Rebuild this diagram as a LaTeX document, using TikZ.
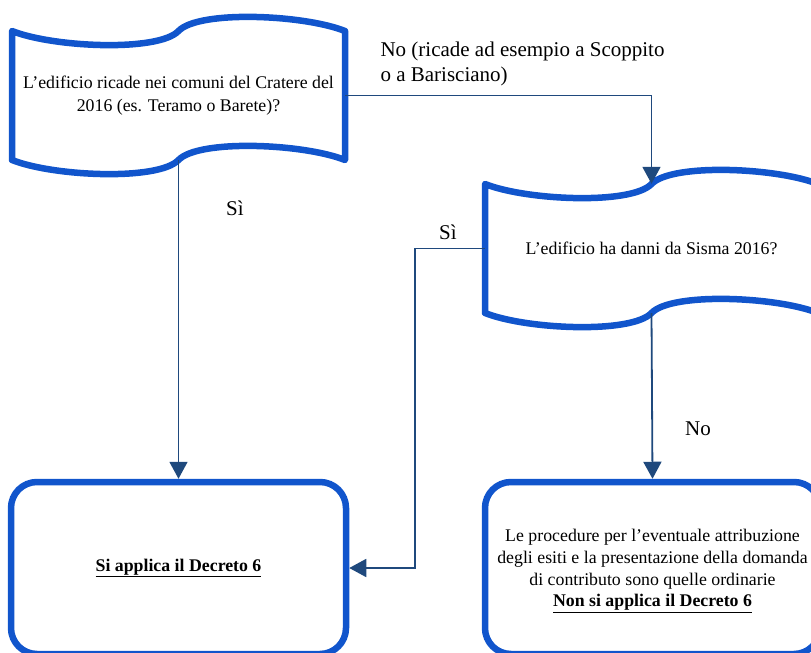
\documentclass[tikz,border=0pt]{standalone}
\usepackage{fontspec}
\setmainfont{Liberation Serif}
\usetikzlibrary{arrows.meta,positioning}
\definecolor{bordo}{RGB}{17,85,204}
\definecolor{linea}{RGB}{31,73,125}
\tikzset{
  nastro/.pic={\draw[line width=6.5pt,bordo,line join=round]
    (-166.5,-64.5) .. controls (-125,-48) and (-20,-43.5) .. (0,-64.5)
    .. controls (20,-85.5) and (125,-81) .. (166.5,-64.5) -- (166.5,64.5)
    .. controls (125,48) and (20,43.5) .. (0,64.5)
    .. controls (-20,85.5) and (-125,81) .. (-166.5,64.5) -- cycle;},
  domanda/.style={minimum width=333pt,minimum height=129pt,inner sep=0pt,
    align=center,font=\fontsize{17.8}{22.5}\selectfont},
  esito/.style={draw=bordo,line width=6.5pt,rounded corners=26pt,
    minimum width=335pt,minimum height=172pt,align=center,
    font=\fontsize{17.8}{21.7}\selectfont},
  etichetta/.style={align=left,font=\fontsize{21}{25}\selectfont},
  freccia/.style={linea,line width=1.8pt,-{Triangle[width=18pt,length=17pt]}}
}
\begin{document}
\begin{tikzpicture}[x=1pt,y=-1pt]%schema decreto
\useasboundingbox (0,0) rectangle (811,653);

\pic at (178.5,95.5) {nastro};
\pic at (651.5,248.5) {nastro};
\node[domanda] (q1) at (178.5,95.5) {L’edificio ricade nei comuni del Cratere del\\2016 (es. Teramo o Barete)?};
\node[domanda] (q2) at (651.5,248.5) {L’edificio ha danni da Sisma 2016?};

\node[esito] (r1) at (178.5,568) {\underline{\textbf{Si applica il Decreto 6}}};
\node[esito] (r2) at (652.5,568) {Le procedure per l’eventuale attribuzione\\degli esiti e la presentazione della domanda\\di contributo sono quelle ordinarie\\\raisebox{0pt}[\height][0pt]{\underline{\textbf{Non si applica il Decreto 6}}}};

\draw[freccia] (q1.east) -| (q2.north);
\draw[freccia] (q1.south) -- (r1.north);
\draw[freccia] (q2.west) -- ++(-70,0) |- (r1.east);
\draw[freccia] (q2.south) -- (r2.north);

\node[etichetta,anchor=west] (n1) at (377,64) {No (ricade ad esempio a Scoppito\\o a Barisciano)};
\node[etichetta] (s1) at (235,208) {Sì};
\node[etichetta] (s2) at (448,232) {Sì};
\node[etichetta] (n2) at (698,429) {No};
\end{tikzpicture}
\end{document}
